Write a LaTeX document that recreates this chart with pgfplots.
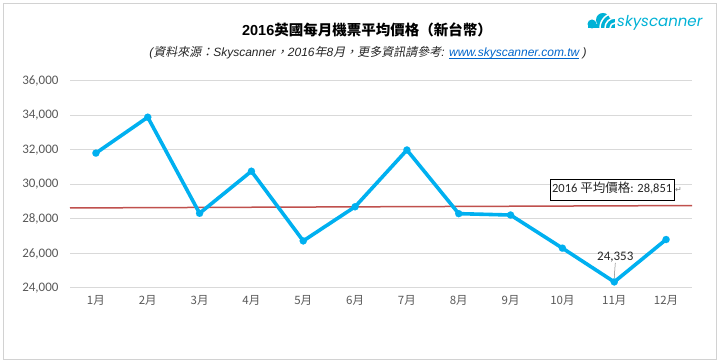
\documentclass[border=0pt]{standalone}
\usepackage{fontspec}
\usepackage{pgfplots}
\pgfplotsset{compat=1.18}
\setmainfont{Carlito}
\newfontfamily\cjk{Noto Sans CJK TC}
\newfontfamily\cjkit{Noto Sans CJK TC}[FakeSlant=0.2]
\newfontfamily\arial{Liberation Sans}
\newfontfamily\dejavu{DejaVu Sans}
\newfontfamily\logofont{Poppins}
\definecolor{lineblue}{RGB}{0,176,240}
\definecolor{avgred}{RGB}{192,80,77}
\definecolor{gridgray}{RGB}{217,217,217}
\definecolor{labgray}{RGB}{89,89,89}
\definecolor{skyblue}{RGB}{0,178,214}
\definecolor{urlblue}{RGB}{0,102,204}
\newcommand{\ul}[1]{\setbox0\hbox{#1}\rlap{\raisebox{-1.6pt}{\rule{\wd0}{0.5pt}}}\box0}
\begin{document}
\begin{tikzpicture}[x=1pt,y=1pt]
\useasboundingbox (0,0) rectangle (720,363);
\fill[white] (0,0) rectangle (720,363);
\draw[gray!35, line width=0.9pt] (3,4) rectangle (716,360);
% title
\node[font=\fontsize{14.5}{15}\selectfont, text=black] at (367,333) {{\arial\bfseries 2016}{\cjk\bfseries 英國每月機票平均價格（新台幣）}};
\node[font=\fontsize{12}{13}\selectfont, text=black!85] at (368,310) {{\arial\itshape (}{\cjkit 資料來源：}{\arial\itshape Skyscanner}{\cjkit ，}{\arial\itshape 2016}{\cjkit 年}{\arial\itshape 8}{\cjkit 月，更多資訊請參考}{\arial\itshape : \textcolor{urlblue}{\ul{www.skyscanner.com.tw}} )}};
% logo
\begin{scope}
\fill[skyblue] (592,339) circle (4.5);
\fill[skyblue] (603,343) circle (7);
\fill[skyblue] (588,335) rectangle (615,339);
\fill[skyblue] (600,335) rectangle (615,345);
\draw[white, line width=1.5pt] (615,340) arc (90:180:5);
\draw[white, line width=1.5pt] (615,345) arc (90:180:10);
\draw[white, line width=1.5pt] (615,350) arc (90:180:15);
\end{scope}
\node[anchor=base west, inner sep=0pt, font=\logofont\fontsize{15}{15}\selectfont, text=skyblue] at (617,336) {\itshape skyscanner};
\begin{axis}[at={(70pt,75pt)}, anchor=south west, scale only axis,
  width=622pt, height=207pt,
  xmin=0.5, xmax=12.5, ymin=24000, ymax=36000,
  xtick={1,...,12},
  xticklabels={1月,2月,3月,4月,5月,6月,7月,8月,9月,10月,11月,12月},
  ytick={24000,26000,...,36000},
  ymajorgrids, grid style={gridgray, line width=1pt},
  axis line style={draw=none}, major tick length=0pt,
  tick label style={text=labgray},
  yticklabel style={font=\fontsize{13}{13}\selectfont, xshift=-8pt},
  xticklabel style={font=\cjk\fontsize{11.5}{12}\selectfont, yshift=-4pt},
  /pgf/number format/assume math mode=true,
  /pgf/number format/1000 sep={,},
  scaled y ticks=false,
  clip=false]
\addplot[avgred, line width=1.5pt] coordinates {(0.5,28640) (12.5,28780)};
\addplot[lineblue, line width=3.6pt, line join=round, line cap=round, mark=*, mark size=3.6pt, mark options={fill=lineblue, draw=lineblue, line width=0.1pt}] coordinates {
(1,31820) (2,33900) (3,28330) (4,30770) (5,26730) (6,28710)
(7,32000) (8,28310) (9,28230) (10,26310) (11,24353) (12,26810)};
\node[draw=black, line width=0.6pt, inner xsep=2pt, inner ysep=4pt, text height=9.5pt, text depth=3pt, fill=white, font=\fontsize{12.5}{13}\selectfont, text=black!85] (avg) at (axis cs:10.96,29700) {2016 {\cjk 平均價格}: 28,851};
\node[anchor=west, inner sep=0.5pt, font=\dejavu\fontsize{8}{8}\selectfont, text=gray] at (avg.east) {↵};
\node[font=\fontsize{13}{13}\selectfont, text=black!85] at (axis cs:11.02,25780) {24,353};
\draw[gray, line width=0.5pt] (axis cs:11.02,25450) -- (axis cs:11.0,24580);
\end{axis}
\end{tikzpicture}
\end{document}
